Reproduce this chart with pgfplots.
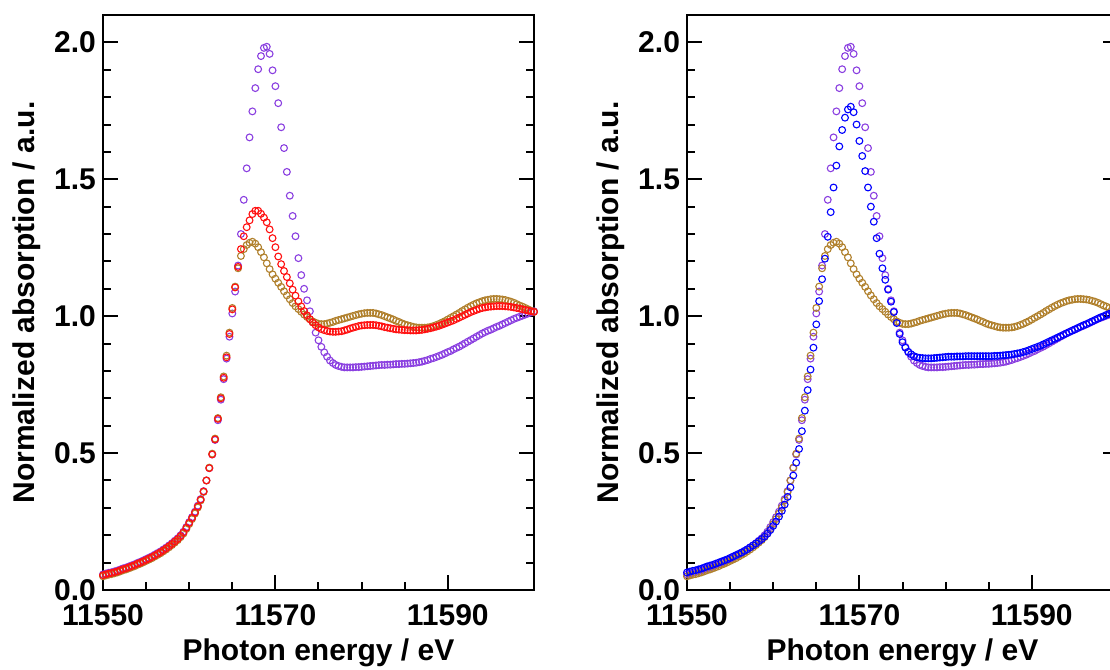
\documentclass[border=0pt]{standalone}
\usepackage{fontspec}
\setmainfont{Liberation Sans}
\usepackage{pgfplots}
\usepackage{pgfplotstable}
\pgfplotsset{compat=1.18}
\definecolor{xpurple}{HTML}{8A3FE0}
\definecolor{xred}{HTML}{FF1010}
\definecolor{xbrown}{HTML}{B0802C}
\definecolor{xblue}{HTML}{0000FF}

% x: photon energy; P purple, R red, B brown, U blue
\pgfplotstableread{
x P R B U
11550.00 0.057 0.054 0.050 0.064
11550.33 0.060 0.057 0.053 0.067
11550.67 0.063 0.060 0.056 0.070
11551.00 0.065 0.062 0.058 0.072
11551.33 0.068 0.065 0.061 0.075
11551.67 0.071 0.068 0.064 0.078
11552.00 0.075 0.072 0.068 0.082
11552.33 0.079 0.076 0.072 0.086
11552.67 0.082 0.079 0.075 0.089
11553.00 0.086 0.083 0.079 0.092
11553.33 0.090 0.087 0.083 0.096
11553.67 0.094 0.091 0.087 0.100
11554.00 0.099 0.096 0.092 0.104
11554.33 0.103 0.100 0.096 0.108
11554.67 0.108 0.105 0.101 0.112
11555.00 0.113 0.110 0.106 0.117
11555.33 0.118 0.115 0.111 0.122
11555.67 0.123 0.120 0.116 0.127
11556.00 0.129 0.126 0.122 0.132
11556.33 0.135 0.132 0.128 0.137
11556.67 0.141 0.138 0.134 0.143
11557.00 0.148 0.145 0.141 0.149
11557.33 0.155 0.152 0.148 0.156
11557.67 0.163 0.160 0.156 0.163
11558.00 0.171 0.168 0.164 0.170
11558.33 0.180 0.177 0.173 0.178
11558.67 0.189 0.186 0.182 0.186
11559.00 0.200 0.197 0.193 0.195
11559.33 0.213 0.210 0.206 0.206
11559.67 0.230 0.227 0.223 0.219
11560.00 0.248 0.245 0.241 0.234
11560.33 0.266 0.263 0.259 0.250
11560.67 0.286 0.283 0.279 0.268
11561.00 0.308 0.305 0.301 0.289
11561.33 0.332 0.330 0.327 0.312
11561.67 0.361 0.360 0.358 0.340
11562.00 0.400 0.400 0.400 0.375
11562.33 0.445 0.445 0.447 0.418
11562.67 0.495 0.495 0.498 0.465
11563.00 0.548 0.550 0.553 0.515
11563.33 0.620 0.625 0.628 0.580
11563.67 0.695 0.700 0.704 0.655
11564.00 0.770 0.775 0.780 0.730
11564.33 0.845 0.850 0.856 0.805
11564.67 0.925 0.935 0.940 0.885
11565.00 1.010 1.025 1.030 0.970
11565.33 1.090 1.105 1.108 1.055
11565.67 1.185 1.180 1.175 1.135
11566.00 1.300 1.245 1.220 1.210
11566.33 1.425 1.292 1.245 1.290
11566.67 1.540 1.325 1.260 1.380
11567.00 1.653 1.350 1.268 1.470
11567.33 1.748 1.373 1.272 1.550
11567.67 1.833 1.385 1.265 1.620
11568.00 1.902 1.385 1.252 1.680
11568.33 1.950 1.374 1.234 1.725
11568.67 1.980 1.360 1.215 1.755
11569.00 1.984 1.343 1.193 1.765
11569.33 1.958 1.317 1.172 1.745
11569.67 1.898 1.285 1.153 1.700
11570.00 1.840 1.252 1.137 1.640
11570.33 1.778 1.218 1.122 1.585
11570.67 1.690 1.190 1.107 1.530
11571.00 1.614 1.165 1.091 1.470
11571.33 1.527 1.143 1.076 1.400
11571.67 1.440 1.120 1.062 1.345
11572.00 1.366 1.097 1.048 1.285
11572.33 1.292 1.075 1.036 1.228
11572.67 1.212 1.054 1.026 1.175
11573.00 1.150 1.036 1.016 1.133
11573.33 1.100 1.019 1.006 1.097
11573.67 1.058 1.003 0.997 1.053
11574.00 1.018 0.989 0.989 1.015
11574.33 0.978 0.977 0.981 0.975
11574.67 0.940 0.967 0.976 0.935
11575.00 0.912 0.959 0.972 0.905
11575.33 0.888 0.953 0.971 0.885
11575.67 0.868 0.949 0.971 0.870
11576.00 0.852 0.946 0.973 0.861
11576.33 0.838 0.944 0.976 0.854
11576.67 0.829 0.943 0.979 0.850
11577.00 0.822 0.943 0.983 0.848
11577.33 0.818 0.944 0.986 0.847
11577.67 0.815 0.945 0.989 0.846
11578.00 0.813 0.948 0.992 0.846
11578.33 0.813 0.951 0.995 0.846
11578.67 0.813 0.955 0.998 0.847
11579.00 0.813 0.958 1.001 0.848
11579.33 0.814 0.961 1.004 0.849
11579.67 0.814 0.964 1.007 0.850
11580.00 0.815 0.966 1.009 0.851
11580.33 0.816 0.967 1.011 0.852
11580.67 0.817 0.968 1.012 0.852
11581.00 0.818 0.968 1.012 0.852
11581.33 0.819 0.968 1.012 0.853
11581.67 0.820 0.967 1.010 0.853
11582.00 0.821 0.965 1.007 0.853
11582.33 0.822 0.963 1.004 0.854
11582.67 0.822 0.960 1.000 0.854
11583.00 0.823 0.958 0.996 0.854
11583.33 0.823 0.956 0.992 0.854
11583.67 0.824 0.954 0.988 0.854
11584.00 0.825 0.952 0.983 0.854
11584.33 0.825 0.951 0.979 0.854
11584.67 0.826 0.950 0.974 0.854
11585.00 0.826 0.949 0.970 0.854
11585.33 0.827 0.949 0.967 0.854
11585.67 0.828 0.948 0.964 0.855
11586.00 0.829 0.948 0.961 0.855
11586.33 0.830 0.948 0.959 0.856
11586.67 0.832 0.949 0.958 0.857
11587.00 0.834 0.950 0.958 0.858
11587.33 0.837 0.952 0.958 0.859
11587.67 0.840 0.954 0.959 0.860
11588.00 0.844 0.956 0.961 0.862
11588.33 0.847 0.959 0.964 0.864
11588.67 0.851 0.962 0.968 0.866
11589.00 0.855 0.965 0.972 0.869
11589.33 0.859 0.969 0.977 0.872
11589.67 0.864 0.973 0.982 0.876
11590.00 0.869 0.977 0.988 0.880
11590.33 0.873 0.981 0.994 0.884
11590.67 0.879 0.985 1.000 0.888
11591.00 0.884 0.990 1.006 0.892
11591.33 0.889 0.995 1.012 0.897
11591.67 0.895 1.000 1.019 0.902
11592.00 0.901 1.005 1.025 0.907
11592.33 0.907 1.010 1.031 0.912
11592.67 0.913 1.015 1.037 0.917
11593.00 0.919 1.019 1.042 0.922
11593.33 0.925 1.023 1.047 0.927
11593.67 0.931 1.027 1.051 0.932
11594.00 0.937 1.030 1.055 0.937
11594.33 0.942 1.032 1.058 0.942
11594.67 0.947 1.034 1.060 0.947
11595.00 0.951 1.035 1.062 0.952
11595.33 0.956 1.036 1.063 0.957
11595.67 0.961 1.037 1.063 0.962
11596.00 0.965 1.037 1.062 0.967
11596.33 0.970 1.037 1.061 0.971
11596.67 0.975 1.036 1.059 0.976
11597.00 0.980 1.035 1.056 0.981
11597.33 0.985 1.034 1.053 0.986
11597.67 0.990 1.032 1.049 0.991
11598.00 0.994 1.030 1.044 0.996
11598.33 0.998 1.028 1.039 1.000
11598.67 1.002 1.025 1.035 1.005
11599.00 1.006 1.023 1.030 1.009
11599.33 1.010 1.020 1.025 1.013
11599.67 1.014 1.018 1.020 1.017
11600.00 1.018 1.016 1.016 1.021
}\xanes

\pgfplotsset{xanesax/.style={
  scale only axis, width=215.5pt, height=287.5pt,
  xmin=11550, xmax=11600, ymin=0, ymax=2.1,
  xtick={11550,11570,11590}, minor x tick num=3,
  ytick={0,0.5,1,1.5,2}, minor y tick num=4,
  scaled x ticks=false,
  tick align=inside, xtick pos=left, ytick pos=both,
  major tick length=7.5pt, minor tick length=4pt,
  axis line style={line width=1pt},
  tick style={line width=1pt, black},
  /pgf/number format/assume math mode=true,
  tick label style={font=\fontsize{15}{18}\selectfont\bfseries},
  xticklabel style={/pgf/number format/fixed, /pgf/number format/precision=0,
    /pgf/number format/set thousands separator={}, yshift=-3.5pt},
  yticklabel style={/pgf/number format/fixed, /pgf/number format/fixed zerofill,
    /pgf/number format/precision=1},
  label style={font=\fontsize{15}{18}\selectfont\bfseries},
  xlabel={Photon energy / eV}, ylabel={Normalized absorption / a.u.},
  clip=false,
  every axis plot/.style={only marks, mark=o, mark size=1.7pt, line width=0.55pt},
}}

\begin{document}
\begin{tikzpicture}
\begin{axis}[xanesax, at={(51.5pt,40pt)}, anchor=south west]
\addplot[xpurple] table[x=x, y=P] {\xanes};
\addplot[xbrown] table[x=x, y=B] {\xanes};
\addplot[xred] table[x=x, y=R] {\xanes};
\end{axis}
\begin{axis}[xanesax, at={(343.5pt,40pt)}, anchor=south west]
\addplot[xpurple] table[x=x, y=P] {\xanes};
\addplot[xbrown] table[x=x, y=B] {\xanes};
\addplot[xblue] table[x=x, y=U] {\xanes};
\end{axis}
\pgfresetboundingbox
\useasboundingbox (0,0) rectangle (555pt,335pt);
\end{tikzpicture}
\end{document}
